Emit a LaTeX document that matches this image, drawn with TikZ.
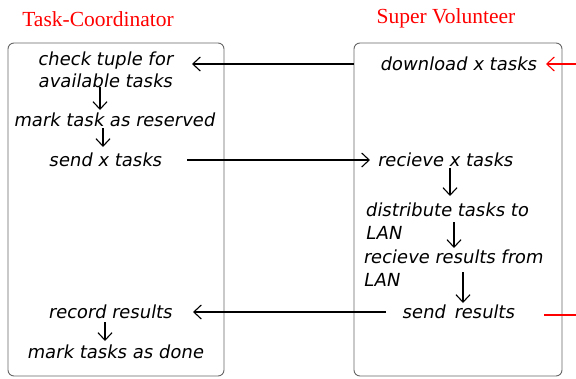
\documentclass[tikz,border=0pt]{standalone}
\usepackage{fontspec}
\setmainfont{Liberation Serif}
\newfontfamily\hand{DejaVu Sans}[FakeSlant=0.18]
\usetikzlibrary{arrows.meta}
\tikzset{
  lane/.style={draw=black!60, line width=0.9pt, rounded corners=6pt, minimum width=#1, minimum height=333pt, inner sep=0pt},
  lbl/.style={font={\hand\fontsize{18}{22.5}\selectfont}, inner sep=1pt},
  ttl/.style={font={\fontsize{21.5}{24}\selectfont}, text=red},
  conn/.style={line width=1.2pt, -{Straight Barb[length=7.5pt,width=14pt,line width=1.1pt]}},
  red conn/.style={conn, draw=red, line width=1.6pt},
}
\begin{document}
\begin{tikzpicture}[x=1pt,y=-1pt]
\useasboundingbox[fill=white] (0,0) rectangle (576,378);
\node[ttl] (t1) at (98,19) {Task-Coordinator};
\node[ttl] (t2) at (446,18) {Super Volunteer};
\node[lane=216pt] (lbox) at (116,209.5) {};
\node[lane=208pt] (rbox) at (458,209.5) {};
% left lane
\node[lbl, align=center] (check) at (105,70) {check tuple for\\available tasks};
\node[lbl] (reserve) at (114,120) {mark task as reserved};
\node[lbl] (sendx) at (105,160) {send x tasks};
\node[lbl] (record) at (110,312) {record results};
\node[lbl] (done) at (115,352) {mark tasks as done};
% right lane
\node[lbl] (dl) at (458,64) {download x tasks};
\node[lbl] (recv) at (445,160) {recieve x tasks};
\node[lbl, align=left, anchor=west] (dist) at (364,221) {distribute tasks to\\LAN};
\node[lbl, align=left, anchor=west] (rres) at (362,268) {recieve results from\\LAN};
\node[lbl] (sres) at (458,312) {send\, results};
\coordinate (inR) at (576,64);
\coordinate (outR) at (576,315);
% connectors
\draw[conn] ([shift={(-5,17)}]check.center) -- ([shift={(-14,-10)}]reserve.center);
\draw[conn] ([shift={(-11,8)}]reserve.center) -- ([shift={(-2,-13)}]sendx.center);
\draw[conn] ([shift={(-5,10)}]record.center) -- ([shift={(-10,-11)}]done.center);
\draw[conn] ([shift={(5,8)}]recv.center) -- ([shift={(86,-25)}]dist.west);
\draw[conn] ([shift={(90,1)}]dist.west) -- ([shift={(92,-20)}]rres.west);
\draw[conn] ([shift={(101,4)}]rres.west) -- ([shift={(5,-9)}]sres.center);
\draw[conn] (rbox.west |- dl.center) -- ([xshift=87pt]check.center |- dl.center);
\draw[conn] ([xshift=82pt]sendx.center) -- ([xshift=-75pt]recv.center);
\draw[conn] ([xshift=-72pt]sres.center) -- ([xshift=83pt]record.center);
\draw[red conn] (inR) -- ([xshift=88pt]dl.center);
\draw[line width=1.6pt, red] (outR) -- ([xshift=86pt]sres.center |- outR);
\end{tikzpicture}
\end{document}
